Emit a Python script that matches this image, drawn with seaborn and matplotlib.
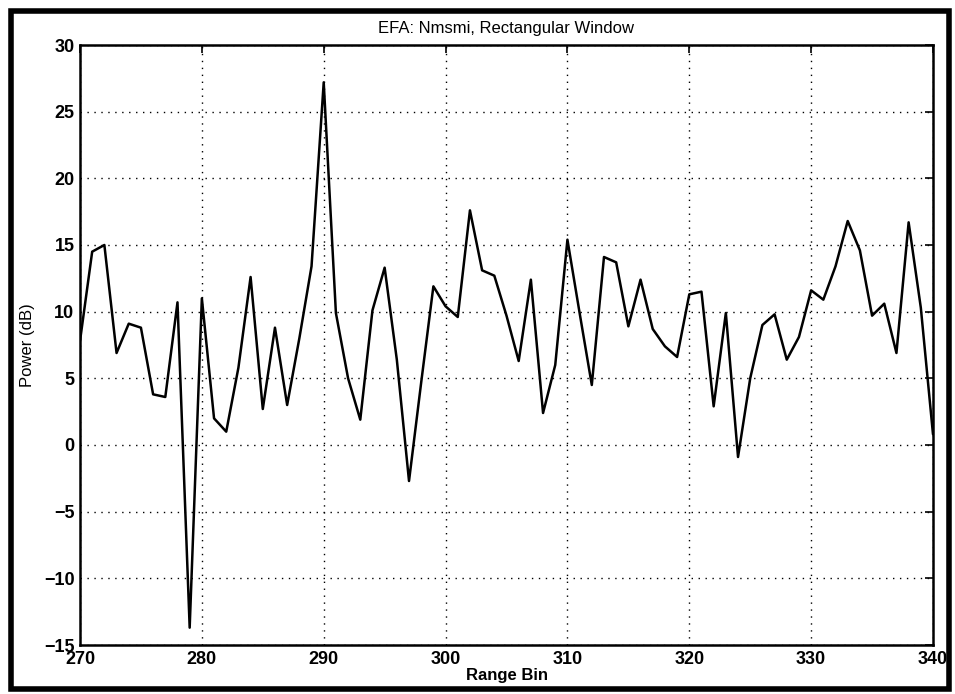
import numpy as np
import pandas as pd
import matplotlib
matplotlib.use("Agg")
import matplotlib.pyplot as plt
import seaborn as sns
from matplotlib.patches import Rectangle

range_bin = list(range(270, 341))
power_db = [
    7.8, 14.5, 15.0, 6.9, 9.1, 8.8, 3.8, 3.6, 10.7, -13.7,   # 270-279
    11.0, 2.0, 1.0, 5.8, 12.6, 2.7, 8.8, 3.0, 8.0, 13.4,     # 280-289
    27.2, 9.9, 5.0, 1.9, 10.1, 13.3, 6.4, -2.7, 4.7, 11.9,   # 290-299
    10.4, 9.6, 17.6, 13.1, 12.7, 9.7, 6.3, 12.4, 2.4, 6.0,   # 300-309
    15.4, 9.9, 4.5, 14.1, 13.7, 8.9, 12.4, 8.7, 7.4, 6.6,    # 310-319
    11.3, 11.5, 2.9, 9.9, -0.9, 5.0, 9.0, 9.8, 6.4, 8.1,     # 320-329
    11.6, 10.9, 13.4, 16.8, 14.6, 9.7, 10.6, 6.9, 16.7, 10.3, # 330-339
    0.8,                                                      # 340
]
x_ticks = [270, 280, 290, 300, 310, 320, 330, 340]
y_ticks = [-15, -10, -5, 0, 5, 10, 15, 20, 25, 30]
title_text = "EFA: Nmsmi, Rectangular Window"
x_label = "Range Bin"
y_label = "Power (dB)"

df = pd.DataFrame({"bin": range_bin, "power": power_db})

sns.set_theme(style="white")
plt.rcParams["font.family"] = ["Liberation Sans", "DejaVu Sans"]

fig = plt.figure(figsize=(9.55, 6.94), dpi=100)
ax = fig.add_axes([80 / 955, 1 - 645 / 694, (933 - 80) / 955, (645 - 45) / 694])

sns.lineplot(data=df, x="bin", y="power", ax=ax, color="black", linewidth=1.8)

ax.set_xlim(270, 340)
ax.set_ylim(-15, 30)
ax.set_xticks(x_ticks)
ax.set_yticks(y_ticks)
ax.set_xticklabels([str(v) for v in x_ticks])
ax.set_yticklabels([str(v).replace("-", "\u2212") for v in y_ticks])
ax.grid(True, color="black", linestyle=(0, (1, 4)), linewidth=1.0)
ax.tick_params(direction="in", length=6, width=1.2, top=True, right=True,
               labelsize=13, colors="black", pad=4)
for lab in ax.get_xticklabels() + ax.get_yticklabels():
    lab.set_fontweight("semibold")
for s in ax.spines.values():
    s.set_visible(True)
    s.set_color("black")
    s.set_linewidth(1.8)

ax.set_xlabel(x_label, fontsize=12, color="black", labelpad=0, fontweight="semibold")
ax.set_ylabel(y_label, fontsize=12, color="black", labelpad=6)
ax.set_title(title_text, fontsize=12, color="black", pad=9)

# outer frame around whole figure
fig.patches.append(Rectangle((11 / 955, 1 - 689 / 694), (949 - 11) / 955, (689 - 11) / 694,
                             transform=fig.transFigure, fill=False, edgecolor="black",
                             linewidth=4, zorder=10))

fig.savefig("out.png", dpi=100, facecolor="white")
